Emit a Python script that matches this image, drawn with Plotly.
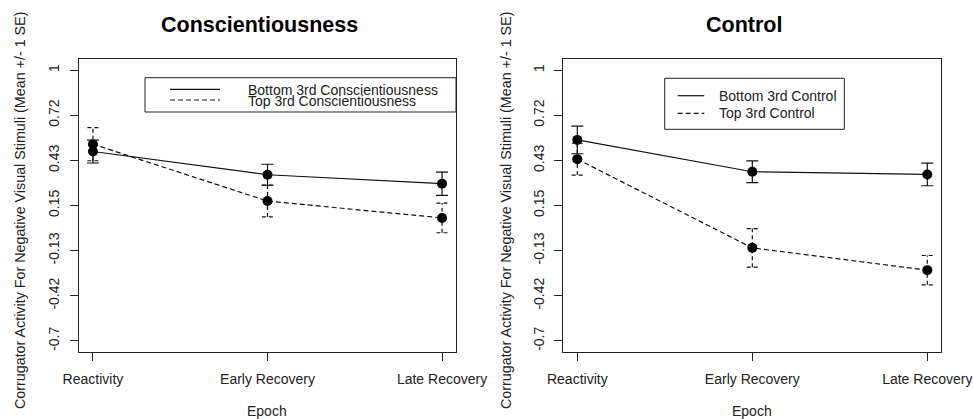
import plotly.graph_objects as go
import numpy as np

W, H = 973, 419

# ---- data ----
categories = ["Reactivity", "Early Recovery", "Late Recovery"]
x_pos = [1, 2, 3]

cons_bottom_mean = [0.489, 0.343, 0.287]
cons_bottom_se = [0.072, 0.066, 0.073]
cons_top_mean = [0.535, 0.178, 0.072]
cons_top_se = [0.104, 0.100, 0.093]

ctrl_bottom_mean = [0.562, 0.362, 0.345]
ctrl_bottom_se = [0.087, 0.068, 0.071]
ctrl_top_mean = [0.441, -0.116, -0.256]
ctrl_top_se = [0.100, 0.121, 0.092]

y_tick_labels = ["-0.7", "-0.42", "-0.13", "0.15", "0.43", "0.72", "1"]
y_tick_vals = list(np.linspace(-0.7, 1.0, 7))

panel_titles = ["Conscientiousness", "Control"]
legend_labels = [["Bottom 3rd Conscientiousness", "Top 3rd Conscientiousness"],
                 ["Bottom 3rd Control", "Top 3rd Control"]]
y_title = "Corrugator Activity For Negative Visual Stimuli (Mean +/- 1 SE)"
x_title = "Epoch"

FONT = "Liberation Sans, Arial, sans-serif"
INK = "#111111"
DASH = "5px,3px"
CAP = 0.032


def px(x):
    return x / W


def py(y):
    return 1 - y / H


fig = go.Figure()


def add_panel(xa, ya, bm, bs, tm, ts):
    # solid (bottom third)
    fig.add_trace(go.Scatter(
        x=x_pos, y=bm, mode="lines+markers", xaxis=xa, yaxis=ya,
        line=dict(color=INK, width=1.2),
        marker=dict(color="black", size=10, symbol="circle"),
        error_y=dict(type="data", array=bs, visible=True, color=INK,
                     thickness=1.2, width=6),
        showlegend=False, hoverinfo="skip"))
    # dashed error bars for top third
    ex, ey = [], []
    for xi, m, s in zip(x_pos, tm, ts):
        lo, hi = m - s, m + s
        ex += [xi, xi, None, xi - CAP, xi + CAP, None, xi - CAP, xi + CAP, None]
        ey += [lo, hi, None, hi, hi, None, lo, lo, None]
    fig.add_trace(go.Scatter(
        x=ex, y=ey, mode="lines", xaxis=xa, yaxis=ya,
        line=dict(color=INK, width=1.2, dash="4px,3px"),
        showlegend=False, hoverinfo="skip"))
    # dashed (top third)
    fig.add_trace(go.Scatter(
        x=x_pos, y=tm, mode="lines+markers", xaxis=xa, yaxis=ya,
        line=dict(color=INK, width=1.2, dash=DASH),
        marker=dict(color="black", size=10, symbol="circle"),
        showlegend=False, hoverinfo="skip"))


add_panel("x", "y", cons_bottom_mean, cons_bottom_se, cons_top_mean, cons_top_se)
add_panel("x2", "y2", ctrl_bottom_mean, ctrl_bottom_se, ctrl_top_mean, ctrl_top_se)

plot_top, plot_bot = 59.3, 351.7
ydom = [py(plot_bot), py(plot_top)]

xaxis_common = dict(
    range=[0.92, 3.08], tickvals=x_pos, ticktext=categories,
    showgrid=False, zeroline=False, showline=True, mirror=True,
    linecolor="#222", linewidth=1, ticks="outside", ticklen=8,
    tickwidth=1, tickcolor="#222",
    tickfont=dict(family=FONT, size=14, color="#222"),
    ticklabelstandoff=6, fixedrange=True, automargin=False)
yaxis_common = dict(
    range=[-0.768, 1.068], tickvals=y_tick_vals, ticktext=y_tick_labels,
    showgrid=False, zeroline=False, showline=True, mirror=True,
    linecolor="#222", linewidth=1, ticks="outside", ticklen=8,
    tickwidth=1, tickcolor="#222", tickangle=-90,
    tickfont=dict(family=FONT, size=14, color="#222"),
    ticklabelstandoff=5, fixedrange=True, automargin=False)

fig.update_layout(
    template="none",
    width=W, height=H,
    margin=dict(l=0, r=0, t=0, b=0, pad=0, autoexpand=False),
    paper_bgcolor="white", plot_bgcolor="white",
    xaxis=dict(domain=[px(79), px(456)], anchor="y", **xaxis_common),
    yaxis=dict(domain=ydom, anchor="x", **yaxis_common),
    xaxis2=dict(domain=[px(563.3), px(941.3)], anchor="y2", **xaxis_common),
    yaxis2=dict(domain=ydom, anchor="x2", **yaxis_common),
)

annotations = []
shapes = []

# titles
for cx, t in zip([259, 744], panel_titles):
    annotations.append(dict(
        x=px(cx), y=py(25.5), xref="paper", yref="paper", text="<b>" + t + "</b>",
        showarrow=False, xanchor="center", yanchor="middle",
        font=dict(family=FONT, size=21.5, color="black")))

# axis titles
for cx in [20, 506]:
    annotations.append(dict(
        x=px(cx), y=py(211), xref="paper", yref="paper", text=y_title,
        showarrow=False, xanchor="center", yanchor="middle", textangle=-90,
        font=dict(family=FONT, size=14.3, color="#222")))
for cx in [267, 752]:
    annotations.append(dict(
        x=px(cx), y=py(411), xref="paper", yref="paper", text=x_title,
        showarrow=False, xanchor="center", yanchor="middle",
        font=dict(family=FONT, size=14, color="#222")))

# legends
legends = [
    dict(box=(145, 456, 77.7, 112), line_x=(170, 220), ys=(89.3, 100.0), tx=246, tys=(89.5, 101.0)),
    dict(box=(664.7, 844.3, 78.3, 129.3), line_x=(677.7, 704.3), ys=(95.7, 113.3), tx=717, tys=(95.7, 113.3)),
]
for lg, labels in zip(legends, legend_labels):
    x0, x1, y0, y1 = lg["box"]
    shapes.append(dict(type="rect", xref="paper", yref="paper",
                       x0=px(x0), x1=px(x1), y0=py(y1), y1=py(y0),
                       line=dict(color="#222", width=1), fillcolor="white", layer="above"))
    lx0, lx1 = lg["line_x"]
    for yy, dash in zip(lg["ys"], ["solid", DASH]):
        shapes.append(dict(type="line", xref="paper", yref="paper",
                           x0=px(lx0), x1=px(lx1), y0=py(yy), y1=py(yy),
                           line=dict(color=INK, width=1.2, dash=dash), layer="above"))
    for yy, lab in zip(lg["tys"], labels):
        annotations.append(dict(
            x=px(lg["tx"]), y=py(yy), xref="paper", yref="paper", text=lab,
            showarrow=False, xanchor="left", yanchor="middle",
            font=dict(family=FONT, size=14, color="#222")))

fig.update_layout(annotations=annotations, shapes=shapes)

fig.write_html("out.html", config={"displayModeBar": False},
               post_script="document.body.style.margin='0';")
